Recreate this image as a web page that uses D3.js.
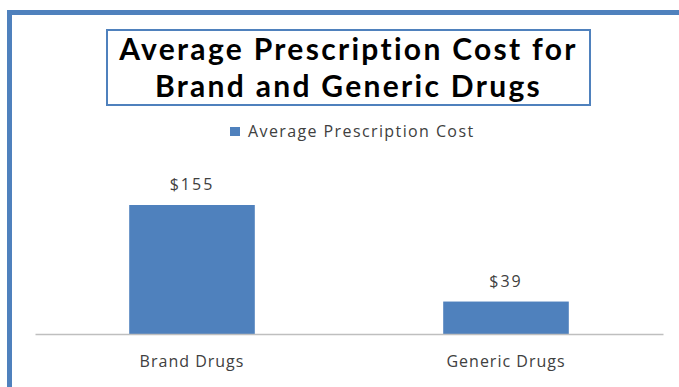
<!DOCTYPE html>
<html>
<head>
<meta charset="utf-8">
<script src="https://cdn.jsdelivr.net/npm/d3@7"></script>
<style>
  html, body { margin: 0; padding: 0; background: #fff; }
  svg { display: block; }
  text { font-variant-ligatures: none; }
</style>
</head>
<body>
<svg id="chart" width="679" height="387"></svg>
<script>
// Chart data
const categories = ["Brand Drugs", "Generic Drugs"];
const costs = [155, 39];
const valueLabels = ["$155", "$39"];
const seriesName = "Average Prescription Cost";
const titleLines = ["Average Prescription Cost for", "Brand and Generic Drugs"];

const W = 679, H = 387;
const blue = "#4F81BD";
const textGray = "#404040";
const svg = d3.select("#chart");

// Outer frame: top and left edges
svg.append("rect").attr("x", 7).attr("y", 10).attr("width", W - 7).attr("height", 5).attr("fill", blue);
svg.append("rect").attr("x", 7).attr("y", 10).attr("width", 5).attr("height", H - 10).attr("fill", blue);

// Title box
svg.append("rect")
  .attr("x", 107).attr("y", 30).attr("width", 483).attr("height", 75)
  .attr("fill", "#fff").attr("stroke", blue).attr("stroke-width", 2);

// Two-line title
svg.append("g").selectAll("text").data(titleLines).join("text")
  .attr("x", 348.5)
  .attr("y", (d, i) => 60 + i * 37)
  .attr("text-anchor", "middle")
  .attr("font-family", "Lato, 'Open Sans', sans-serif")
  .attr("font-weight", "bold")
  .attr("font-size", 30)
  .attr("letter-spacing", 2.3)
  .attr("fill", "#000")
  .text(d => d);

// Legend
svg.append("rect").attr("x", 230).attr("y", 127).attr("width", 10).attr("height", 9).attr("fill", blue);
svg.append("text")
  .attr("x", 248).attr("y", 137)
  .attr("font-family", "'Open Sans', sans-serif")
  .attr("font-size", 16)
  .attr("letter-spacing", 1.4)
  .attr("fill", textGray)
  .text(seriesName);

// Plot scales
const plotLeft = 35, plotRight = 663, baseY = 334;
const x = d3.scaleBand().domain(categories).range([plotLeft, plotRight])
  .paddingInner(0.6).paddingOuter(0.3);
const y = d3.scaleLinear().domain([0, 180]).range([baseY, baseY - 180 * (129 / 155)]);

// Bars
svg.append("g").selectAll("rect").data(costs).join("rect")
  .attr("x", (d, i) => x(categories[i]))
  .attr("y", d => y(d))
  .attr("width", x.bandwidth())
  .attr("height", d => y(0) - y(d))
  .attr("fill", blue);

// Category axis
const xAxis = svg.append("g").attr("transform", `translate(0,${baseY})`)
  .call(d3.axisBottom(x).tickSize(0).tickPadding(22));
xAxis.select(".domain").attr("stroke", "#bfbfbf").attr("stroke-width", 1.5);
xAxis.selectAll("text")
  .attr("font-family", "'Open Sans', sans-serif")
  .attr("font-size", 16)
  .attr("letter-spacing", 1)
  .attr("fill", textGray);

// Value labels
svg.append("g").selectAll("text").data(costs).join("text")
  .attr("x", (d, i) => x(categories[i]) + x.bandwidth() / 2)
  .attr("y", d => y(d) - 15)
  .attr("text-anchor", "middle")
  .attr("font-family", "'Open Sans', sans-serif")
  .attr("font-size", 16)
  .attr("letter-spacing", 2)
  .attr("fill", textGray)
  .text((d, i) => valueLabels[i]);
</script>
</body>
</html>
